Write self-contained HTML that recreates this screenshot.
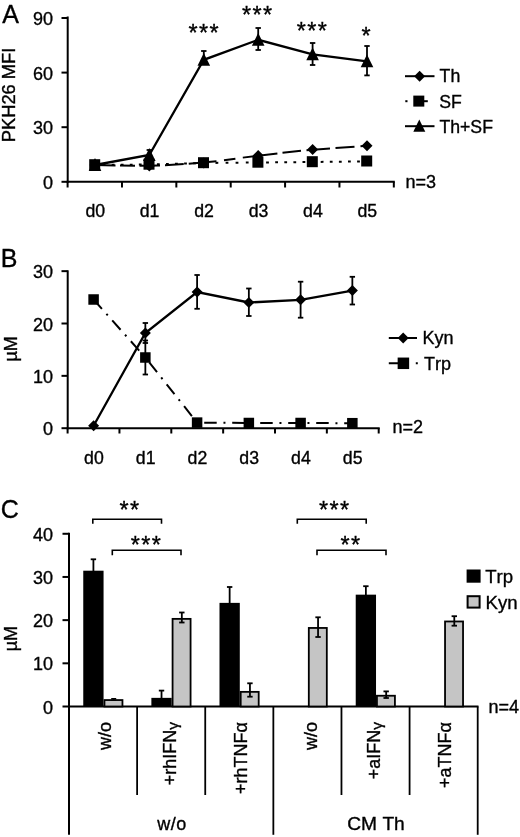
<!DOCTYPE html>
<html><head><meta charset="utf-8"><title>Figure</title>
<style>
html,body{margin:0;padding:0;background:#fff}
svg{display:block}
svg text{font-family:"Liberation Sans",Arial,sans-serif;fill:#000;stroke:#000;stroke-width:0.35px;font-kerning:none}
svg line,svg polyline{stroke:#000}
</style></head><body>
<svg width="520" height="837" viewBox="0 0 520 837">
<rect width="520" height="837" fill="#fff"/>
<text x="2.2" y="22.6" font-size="25" text-anchor="start" >A</text>
<line x1="67.7" y1="16.5" x2="67.7" y2="182.8" stroke-width="2" />
<line x1="66.7" y1="181.8" x2="394.8" y2="181.8" stroke-width="2" />
<line x1="61.5" y1="181.8" x2="67.7" y2="181.8" stroke-width="2" />
<text x="53" y="188.8" font-size="18" text-anchor="end" >0</text>
<line x1="61.5" y1="127.2" x2="67.7" y2="127.2" stroke-width="2" />
<text x="53" y="134.2" font-size="18" text-anchor="end" >30</text>
<line x1="61.5" y1="72.6" x2="67.7" y2="72.6" stroke-width="2" />
<text x="53" y="79.6" font-size="18" text-anchor="end" >60</text>
<line x1="61.5" y1="18.0" x2="67.7" y2="18.0" stroke-width="2" />
<text x="53" y="25.0" font-size="18" text-anchor="end" >90</text>
<line x1="67.6" y1="181.8" x2="67.6" y2="187.5" stroke-width="2" />
<line x1="121.97" y1="181.8" x2="121.97" y2="187.5" stroke-width="2" />
<line x1="176.33999999999997" y1="181.8" x2="176.33999999999997" y2="187.5" stroke-width="2" />
<line x1="230.70999999999998" y1="181.8" x2="230.70999999999998" y2="187.5" stroke-width="2" />
<line x1="285.08" y1="181.8" x2="285.08" y2="187.5" stroke-width="2" />
<line x1="339.44999999999993" y1="181.8" x2="339.44999999999993" y2="187.5" stroke-width="2" />
<line x1="393.81999999999994" y1="181.8" x2="393.81999999999994" y2="187.5" stroke-width="2" />
<text x="95.3" y="216.7" font-size="17.7" text-anchor="middle" >d0</text>
<text x="149.60000000000002" y="216.7" font-size="17.7" text-anchor="middle" >d1</text>
<text x="204.10000000000002" y="216.7" font-size="17.7" text-anchor="middle" >d2</text>
<text x="258.5" y="216.7" font-size="17.7" text-anchor="middle" >d3</text>
<text x="312.90000000000003" y="216.7" font-size="17.7" text-anchor="middle" >d4</text>
<text x="367.3" y="216.7" font-size="17.7" text-anchor="middle" >d5</text>
<text transform="translate(15.3 142.2) rotate(-90)" font-size="18.3" text-anchor="start" >PKH26 MFI</text>
<text x="405.5" y="187.6" font-size="18" text-anchor="start" >n=3</text>
<path d="M102.65 164.93L105.45 164.9M111.7 164.85L114.5 164.82M120.75 164.76L123.55 164.74M129.8 164.68L132.6 164.65M138.85 164.6L141.65 164.57M156.95 164.29L159.75 164.21M166.0 164.04L168.8 163.96M175.05 163.79L177.85 163.71M184.1 163.54L186.9 163.47M193.15 163.29L195.95 163.22M215.5 162.89L218.3 162.87M225.6 162.8L228.4 162.77M235.6 162.71L238.4 162.68M245.8 162.61L248.6 162.59M266.1 162.43L268.9 162.4M275.2 162.34L278.0 162.32M284.3 162.26L287.1 162.23M293.4 162.18L296.2 162.15M302.5 162.09L305.3 162.07M320.7 161.9L323.5 161.86M329.8 161.78L332.6 161.74M338.9 161.66L341.7 161.63M348.0 161.54L350.8 161.51M357.1 161.43L359.9 161.39" fill="none" stroke="#000" stroke-width="2"/>
<path d="M95 165.0L115.5 165.38M120 165.46L135 165.74M139.5 165.82L160 165.41M165 165.14L183.75 164.1M188.75 163.83L216.5 161.25M224 160.22L235.4 158.64M242.8 157.62L277.4 153.42M282.5 152.86L301 150.86M306.5 150.26L330 148.38M335.5 148.0L354.5 146.67M360.5 146.25L367 145.8" fill="none" stroke="#000" stroke-width="2"/>
<polyline points="95,165 149.3,155 203.8,59.8 258.2,39.8 312.6,54.3 367,61.3" fill="none" stroke-width="2.3" />
<line x1="149.3" y1="150" x2="149.3" y2="160" stroke-width="1.8" />
<line x1="146.60000000000002" y1="150" x2="152.0" y2="150" stroke-width="1.8" />
<line x1="146.60000000000002" y1="160" x2="152.0" y2="160" stroke-width="1.8" />
<line x1="203.8" y1="51" x2="203.8" y2="62" stroke-width="1.8" />
<line x1="201.10000000000002" y1="51" x2="206.5" y2="51" stroke-width="1.8" />
<line x1="201.10000000000002" y1="62" x2="206.5" y2="62" stroke-width="1.8" />
<line x1="258.2" y1="28" x2="258.2" y2="50" stroke-width="1.8" />
<line x1="255.5" y1="28" x2="260.9" y2="28" stroke-width="1.8" />
<line x1="255.5" y1="50" x2="260.9" y2="50" stroke-width="1.8" />
<line x1="312.6" y1="43" x2="312.6" y2="65" stroke-width="1.8" />
<line x1="309.90000000000003" y1="43" x2="315.3" y2="43" stroke-width="1.8" />
<line x1="309.90000000000003" y1="65" x2="315.3" y2="65" stroke-width="1.8" />
<line x1="367" y1="46" x2="367" y2="75.4" stroke-width="1.8" />
<line x1="364.3" y1="46" x2="369.7" y2="46" stroke-width="1.8" />
<line x1="364.3" y1="75.4" x2="369.7" y2="75.4" stroke-width="1.8" />
<polygon points="95,159.5 100.5,165 95,170.5 89.5,165" fill="#000" stroke="none"/>
<polygon points="149.3,160.5 154.8,166 149.3,171.5 143.8,166" fill="#000" stroke="none"/>
<polygon points="203.8,157.5 209.3,163 203.8,168.5 198.3,163" fill="#000" stroke="none"/>
<polygon points="258.2,150.0 263.7,155.5 258.2,161.0 252.7,155.5" fill="#000" stroke="none"/>
<polygon points="312.6,144.1 318.1,149.6 312.6,155.1 307.1,149.6" fill="#000" stroke="none"/>
<polygon points="367,140.3 372.5,145.8 367,151.3 361.5,145.8" fill="#000" stroke="none"/>
<rect x="89.2" y="159.2" width="11" height="11" fill="#000" stroke="none"/>
<rect x="143.5" y="158.7" width="11" height="11" fill="#000" stroke="none"/>
<rect x="198.0" y="157.2" width="11" height="11" fill="#000" stroke="none"/>
<rect x="252.39999999999998" y="156.7" width="11" height="11" fill="#000" stroke="none"/>
<rect x="306.8" y="156.2" width="11" height="11" fill="#000" stroke="none"/>
<rect x="361.2" y="155.5" width="11" height="11" fill="#000" stroke="none"/>
<polygon points="95,158.1 101.3,170.9 88.7,170.9" fill="#000" stroke="none"/>
<polygon points="149.3,148.1 155.60000000000002,160.9 143.0,160.9" fill="#000" stroke="none"/>
<polygon points="203.8,52.9 210.10000000000002,65.69999999999999 197.5,65.69999999999999" fill="#000" stroke="none"/>
<polygon points="258.2,32.9 264.5,45.699999999999996 251.89999999999998,45.699999999999996" fill="#000" stroke="none"/>
<polygon points="312.6,47.4 318.90000000000003,60.199999999999996 306.3,60.199999999999996" fill="#000" stroke="none"/>
<polygon points="367,54.4 373.3,67.19999999999999 360.7,67.19999999999999" fill="#000" stroke="none"/>
<text x="204.3" y="40.8056" font-size="23.4" text-anchor="middle" letter-spacing="1.35">***</text>
<text x="257.7" y="22.805600000000002" font-size="23.4" text-anchor="middle" letter-spacing="1.35">***</text>
<text x="312.5" y="38.5056" font-size="23.4" text-anchor="middle" letter-spacing="1.35">***</text>
<text x="366.7" y="44.3056" font-size="23.4" text-anchor="middle" letter-spacing="1.35">*</text>
<line x1="405" y1="76.2" x2="434.5" y2="76.2" stroke-width="2" />
<polygon points="419.6,70.7 425.1,76.2 419.6,81.7 414.1,76.2" fill="#000" stroke="none"/>
<text x="439.6" y="82.2" font-size="17.7" text-anchor="start" >Th</text>
<line x1="405.3" y1="101.2" x2="407.5" y2="101.2" stroke-width="2" />
<line x1="424" y1="101.2" x2="427.8" y2="101.2" stroke-width="2" />
<rect x="413.3" y="95.6" width="11" height="11" fill="#000" stroke="none"/>
<text x="439.2" y="107.6" font-size="17.7" text-anchor="start" >SF</text>
<line x1="405" y1="126.2" x2="434.5" y2="126.2" stroke-width="2" />
<polygon points="419.3,119.60000000000001 425.3,131.79999999999998 413.3,131.79999999999998" fill="#000" stroke="none"/>
<text x="439.4" y="132.6" font-size="17.7" text-anchor="start" >Th+SF</text>
<text x="0.8" y="266.5" font-size="25" text-anchor="start" >B</text>
<line x1="67.7" y1="270.3" x2="67.7" y2="429.2" stroke-width="2" />
<line x1="66.7" y1="428.2" x2="379.7" y2="428.2" stroke-width="2" />
<line x1="61.5" y1="428.2" x2="67.7" y2="428.2" stroke-width="2" />
<text x="53" y="435.2" font-size="18" text-anchor="end" >0</text>
<line x1="61.5" y1="375.85" x2="67.7" y2="375.85" stroke-width="2" />
<text x="53" y="382.85" font-size="18" text-anchor="end" >10</text>
<line x1="61.5" y1="323.5" x2="67.7" y2="323.5" stroke-width="2" />
<text x="53" y="330.5" font-size="18" text-anchor="end" >20</text>
<line x1="61.5" y1="271.15" x2="67.7" y2="271.15" stroke-width="2" />
<text x="53" y="278.15" font-size="18" text-anchor="end" >30</text>
<line x1="67.6" y1="428.2" x2="67.6" y2="433.5" stroke-width="2" />
<line x1="119.44999999999999" y1="428.2" x2="119.44999999999999" y2="433.5" stroke-width="2" />
<line x1="171.3" y1="428.2" x2="171.3" y2="433.5" stroke-width="2" />
<line x1="223.15" y1="428.2" x2="223.15" y2="433.5" stroke-width="2" />
<line x1="275.0" y1="428.2" x2="275.0" y2="433.5" stroke-width="2" />
<line x1="326.85" y1="428.2" x2="326.85" y2="433.5" stroke-width="2" />
<line x1="378.70000000000005" y1="428.2" x2="378.70000000000005" y2="433.5" stroke-width="2" />
<text x="93.89999999999999" y="464" font-size="17.7" text-anchor="middle" >d0</text>
<text x="145.65" y="464" font-size="17.7" text-anchor="middle" >d1</text>
<text x="197.4" y="464" font-size="17.7" text-anchor="middle" >d2</text>
<text x="249.15" y="464" font-size="17.7" text-anchor="middle" >d3</text>
<text x="300.90000000000003" y="464" font-size="17.7" text-anchor="middle" >d4</text>
<text x="352.65000000000003" y="464" font-size="17.7" text-anchor="middle" >d5</text>
<text transform="translate(17.2 361.5) rotate(-90)" font-size="18" text-anchor="start" >µM</text>
<text x="392.5" y="433.2" font-size="18" text-anchor="start" >n=2</text>
<polyline points="93.6,299.5 145.35,357.5 197.1,422.6 248.85,423 300.6,423 352.35,423.2" fill="none" stroke-width="2" stroke-dasharray="12.5 6.75 2 6.75"/>
<polyline points="93.6,425.8 145.35,333 197.1,292 248.85,302.5 300.6,299.8 352.35,290.6" fill="none" stroke-width="2.3" />
<line x1="145.35" y1="340.5" x2="145.35" y2="374.5" stroke-width="1.8" />
<line x1="142.65" y1="340.5" x2="148.04999999999998" y2="340.5" stroke-width="1.8" />
<line x1="142.65" y1="374.5" x2="148.04999999999998" y2="374.5" stroke-width="1.8" />
<line x1="145.35" y1="323" x2="145.35" y2="343" stroke-width="1.8" />
<line x1="142.65" y1="323" x2="148.04999999999998" y2="323" stroke-width="1.8" />
<line x1="142.65" y1="343" x2="148.04999999999998" y2="343" stroke-width="1.8" />
<line x1="197.1" y1="275" x2="197.1" y2="308.8" stroke-width="1.8" />
<line x1="194.4" y1="275" x2="199.79999999999998" y2="275" stroke-width="1.8" />
<line x1="194.4" y1="308.8" x2="199.79999999999998" y2="308.8" stroke-width="1.8" />
<line x1="248.85" y1="288.5" x2="248.85" y2="316" stroke-width="1.8" />
<line x1="246.15" y1="288.5" x2="251.54999999999998" y2="288.5" stroke-width="1.8" />
<line x1="246.15" y1="316" x2="251.54999999999998" y2="316" stroke-width="1.8" />
<line x1="300.6" y1="281.7" x2="300.6" y2="317.7" stroke-width="1.8" />
<line x1="297.90000000000003" y1="281.7" x2="303.3" y2="281.7" stroke-width="1.8" />
<line x1="297.90000000000003" y1="317.7" x2="303.3" y2="317.7" stroke-width="1.8" />
<line x1="352.35" y1="276.8" x2="352.35" y2="304.5" stroke-width="1.8" />
<line x1="349.65000000000003" y1="276.8" x2="355.05" y2="276.8" stroke-width="1.8" />
<line x1="349.65000000000003" y1="304.5" x2="355.05" y2="304.5" stroke-width="1.8" />
<rect x="88.35" y="294.25" width="10.5" height="10.5" fill="#000" stroke="none"/>
<rect x="140.1" y="352.25" width="10.5" height="10.5" fill="#000" stroke="none"/>
<rect x="191.85" y="417.35" width="10.5" height="10.5" fill="#000" stroke="none"/>
<rect x="243.6" y="417.75" width="10.5" height="10.5" fill="#000" stroke="none"/>
<rect x="295.35" y="417.75" width="10.5" height="10.5" fill="#000" stroke="none"/>
<rect x="347.1" y="417.95" width="10.5" height="10.5" fill="#000" stroke="none"/>
<polygon points="93.6,420.3 99.1,425.8 93.6,431.3 88.1,425.8" fill="#000" stroke="none"/>
<polygon points="145.35,327.5 150.85,333 145.35,338.5 139.85,333" fill="#000" stroke="none"/>
<polygon points="197.1,286.5 202.6,292 197.1,297.5 191.6,292" fill="#000" stroke="none"/>
<polygon points="248.85,297.0 254.35,302.5 248.85,308.0 243.35,302.5" fill="#000" stroke="none"/>
<polygon points="300.6,294.3 306.1,299.8 300.6,305.3 295.1,299.8" fill="#000" stroke="none"/>
<polygon points="352.35,285.1 357.85,290.6 352.35,296.1 346.85,290.6" fill="#000" stroke="none"/>
<line x1="388.8" y1="338" x2="417" y2="338" stroke-width="2" />
<polygon points="403.2,332.5 408.7,338 403.2,343.5 397.7,338" fill="#000" stroke="none"/>
<text x="422.6" y="344" font-size="18" text-anchor="start" >Kyn</text>
<line x1="388.8" y1="363.3" x2="418" y2="363.3" stroke-width="2" stroke-dasharray="20 7 2 6"/>
<rect x="397.65" y="357.55" width="11.5" height="11.5" fill="#000" stroke="none"/>
<text x="424" y="369.6" font-size="18" text-anchor="start" >Trp</text>
<text x="0.8" y="517.8" font-size="25" text-anchor="start" >C</text>
<line x1="69" y1="532.78" x2="69" y2="834.8" stroke-width="2" />
<line x1="68" y1="706.5" x2="478.5" y2="706.5" stroke-width="2" />
<line x1="62.5" y1="706.5" x2="69" y2="706.5" stroke-width="2" />
<text x="53" y="713.5" font-size="18" text-anchor="end" >0</text>
<line x1="62.5" y1="663.32" x2="69" y2="663.32" stroke-width="2" />
<text x="53" y="670.32" font-size="18" text-anchor="end" >10</text>
<line x1="62.5" y1="620.14" x2="69" y2="620.14" stroke-width="2" />
<text x="53" y="627.14" font-size="18" text-anchor="end" >20</text>
<line x1="62.5" y1="576.96" x2="69" y2="576.96" stroke-width="2" />
<text x="53" y="583.96" font-size="18" text-anchor="end" >30</text>
<line x1="62.5" y1="533.78" x2="69" y2="533.78" stroke-width="2" />
<text x="53" y="540.78" font-size="18" text-anchor="end" >40</text>
<text transform="translate(17.2 651.3) rotate(-90)" font-size="18" text-anchor="start" >µM</text>
<text x="488.5" y="713" font-size="18" text-anchor="start" >n=4</text>
<line x1="137.11666666666667" y1="706.5" x2="137.11666666666667" y2="795" stroke-width="1.8" />
<line x1="205.23333333333332" y1="706.5" x2="205.23333333333332" y2="795" stroke-width="1.8" />
<line x1="273.34999999999997" y1="706.5" x2="273.34999999999997" y2="834.8" stroke-width="1.8" />
<line x1="341.46666666666664" y1="706.5" x2="341.46666666666664" y2="795" stroke-width="1.8" />
<line x1="409.5833333333333" y1="706.5" x2="409.5833333333333" y2="795" stroke-width="1.8" />
<line x1="477.69999999999993" y1="706.5" x2="477.69999999999993" y2="834.8" stroke-width="1.8" />
<rect x="83.25833333333334" y="570.7" width="20.299999999999997" height="135.79999999999995" fill="#000" stroke="none"/>
<rect x="104.45833333333334" y="700.06" width="17.999999999999996" height="6.4400000000000315" fill="#c5c5c5" stroke="#000" stroke-width="1.8"/>
<rect x="151.375" y="697.86" width="20.30000000000001" height="8.639999999999986" fill="#000" stroke="none"/>
<rect x="172.57500000000002" y="618.88" width="18.00000000000001" height="87.61999999999998" fill="#c5c5c5" stroke="#000" stroke-width="1.8"/>
<rect x="219.49166666666665" y="602.87" width="20.30000000000001" height="103.63" fill="#000" stroke="none"/>
<rect x="240.69166666666666" y="691.86" width="17.999999999999982" height="14.639999999999963" fill="#c5c5c5" stroke="#000" stroke-width="1.8"/>
<rect x="308.8083333333333" y="627.9499999999999" width="18.00000000000001" height="78.55000000000004" fill="#c5c5c5" stroke="#000" stroke-width="1.8"/>
<rect x="355.72499999999997" y="594.66" width="20.30000000000001" height="111.84000000000003" fill="#000" stroke="none"/>
<rect x="376.92499999999995" y="695.74" width="18.00000000000001" height="10.759999999999968" fill="#c5c5c5" stroke="#000" stroke-width="1.8"/>
<rect x="445.04166666666663" y="621.47" width="18.00000000000001" height="85.02999999999994" fill="#c5c5c5" stroke="#000" stroke-width="1.8"/>
<line x1="93.40833333333333" y1="559.3" x2="93.40833333333333" y2="575" stroke-width="1.8" />
<line x1="90.70833333333333" y1="559.3" x2="96.10833333333333" y2="559.3" stroke-width="1.8" />
<line x1="113.70833333333334" y1="698.6" x2="113.70833333333334" y2="700" stroke-width="1.2" />
<line x1="111.20833333333334" y1="698.6" x2="116.20833333333334" y2="698.6" stroke-width="1.2" />
<line x1="111.20833333333334" y1="700" x2="116.20833333333334" y2="700" stroke-width="1.2" />
<line x1="161.525" y1="690.6" x2="161.525" y2="698" stroke-width="1.8" />
<line x1="158.82500000000002" y1="690.6" x2="164.225" y2="690.6" stroke-width="1.8" />
<line x1="181.82500000000002" y1="612.5" x2="181.82500000000002" y2="622.5" stroke-width="1.8" />
<line x1="179.12500000000003" y1="612.5" x2="184.525" y2="612.5" stroke-width="1.8" />
<line x1="179.12500000000003" y1="622.5" x2="184.525" y2="622.5" stroke-width="1.8" />
<line x1="229.64166666666665" y1="587" x2="229.64166666666665" y2="604" stroke-width="1.8" />
<line x1="226.94166666666666" y1="587" x2="232.34166666666664" y2="587" stroke-width="1.8" />
<line x1="249.94166666666666" y1="683.3" x2="249.94166666666666" y2="696.7" stroke-width="1.8" />
<line x1="247.24166666666667" y1="683.3" x2="252.64166666666665" y2="683.3" stroke-width="1.8" />
<line x1="247.24166666666667" y1="696.7" x2="252.64166666666665" y2="696.7" stroke-width="1.8" />
<line x1="318.0583333333333" y1="617.3" x2="318.0583333333333" y2="637" stroke-width="1.8" />
<line x1="315.3583333333333" y1="617.3" x2="320.75833333333327" y2="617.3" stroke-width="1.8" />
<line x1="315.3583333333333" y1="637" x2="320.75833333333327" y2="637" stroke-width="1.8" />
<line x1="365.875" y1="586.2" x2="365.875" y2="596" stroke-width="1.8" />
<line x1="363.175" y1="586.2" x2="368.575" y2="586.2" stroke-width="1.8" />
<line x1="386.17499999999995" y1="691.4" x2="386.17499999999995" y2="698" stroke-width="1.8" />
<line x1="383.47499999999997" y1="691.4" x2="388.87499999999994" y2="691.4" stroke-width="1.8" />
<line x1="383.47499999999997" y1="698" x2="388.87499999999994" y2="698" stroke-width="1.8" />
<line x1="454.29166666666663" y1="616.2" x2="454.29166666666663" y2="625.7" stroke-width="1.8" />
<line x1="451.59166666666664" y1="616.2" x2="456.9916666666666" y2="616.2" stroke-width="1.8" />
<line x1="451.59166666666664" y1="625.7" x2="456.9916666666666" y2="625.7" stroke-width="1.8" />
<polyline points="92.8,523.8 92.8,519.3 161.5,519.3 161.5,523.8" fill="none" stroke-width="1.6" />
<polyline points="112.3,555.3 112.3,550.3 181,550.3 181,555.3" fill="none" stroke-width="1.6" />
<polyline points="297.3,523.8 297.3,519.3 366.2,519.3 366.2,523.8" fill="none" stroke-width="1.6" />
<polyline points="317,555.3 317,550.3 386,550.3 386,555.3" fill="none" stroke-width="1.6" />
<text x="129.9" y="518.0056" font-size="23.4" text-anchor="middle" letter-spacing="1.35">**</text>
<text x="146.5" y="553.1055999999999" font-size="23.4" text-anchor="middle" letter-spacing="1.35">***</text>
<text x="334.8" y="517.6056" font-size="23.4" text-anchor="middle" letter-spacing="1.35">***</text>
<text x="350.9" y="553.1055999999999" font-size="23.4" text-anchor="middle" letter-spacing="1.35">**</text>
<rect x="466.6" y="569.5" width="14" height="13.2" fill="#000" stroke="none"/>
<rect x="467.6" y="596.2" width="12" height="11.4" fill="#c5c5c5" stroke="#000" stroke-width="2"/>
<text x="485.2" y="582.5" font-size="18.6" text-anchor="start" >Trp</text>
<text x="485.6" y="608.6" font-size="18.6" text-anchor="start" >Kyn</text>
<text transform="translate(111.3 722) rotate(-90)" font-size="18" text-anchor="end" >w/o</text>
<text transform="translate(176.4 722) rotate(-90)" font-size="18" text-anchor="end" >+rhIFN<tspan font-size="15.5" dy="1.6">γ</tspan></text>
<text transform="translate(246.5 722) rotate(-90)" font-size="18" text-anchor="end" >+rhTNFα</text>
<text transform="translate(316.8 722) rotate(-90)" font-size="18" text-anchor="end" >w/o</text>
<text transform="translate(380.2 722) rotate(-90)" font-size="18" text-anchor="end" >+aIFN<tspan font-size="15.5" dy="1.6">γ</tspan></text>
<text transform="translate(450.9 722) rotate(-90)" font-size="18" text-anchor="end" >+aTNFα</text>
<text x="172" y="829.5" font-size="18" text-anchor="middle" letter-spacing="0.5">w/o</text>
<text x="376" y="829.7" font-size="19.2" text-anchor="middle" >CM Th</text>
</svg>
</body></html>
